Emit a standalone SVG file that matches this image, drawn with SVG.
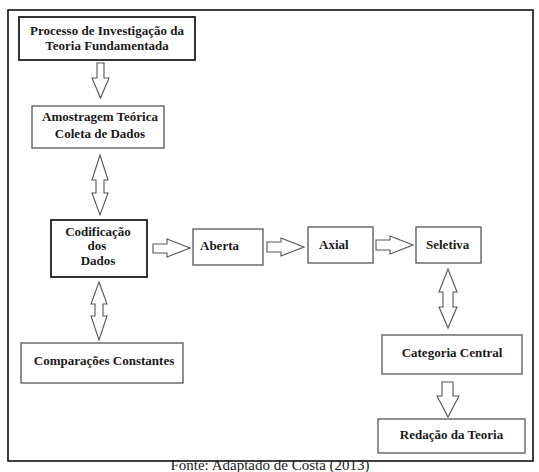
<svg xmlns="http://www.w3.org/2000/svg" width="539" height="472" viewBox="0 0 539 472">
<style>
.frame{fill:none;stroke:#111;stroke-width:1.6}
.bx{fill:#fff;stroke:#555;stroke-width:1.3}
.bk{fill:#fff;stroke:#111;stroke-width:1.7}
.ar{fill:#fff;stroke:#555;stroke-width:1.1;stroke-linejoin:miter}
.t{font-family:"Liberation Serif","Times New Roman",serif;font-weight:bold;font-size:13px;fill:#1a1a1a}
.c{text-anchor:middle}
.cap{font-family:"Liberation Serif","Times New Roman",serif;font-size:15px;fill:#222;text-anchor:middle}
</style>
<rect width="539" height="472" fill="#fff"/>
<rect class="frame" x="8" y="10" width="525" height="451"/>
<g id="connectors">
<path class="ar" d="M97,63 L104,63 L104,78 L109,78 L100.5,98 L92,78 L97,78 Z"/>
<path class="ar" d="M100,155 L108,180 L104,180 L104,193 L108,193 L100,215 L92,193 L96,193 L96,180 L92,180 Z"/>
<path class="ar" d="M99,282 L107,304 L103,304 L103,316 L107,316 L99,340 L91,316 L95,316 L95,304 L91,304 Z"/>
<path class="ar" d="M153,244 L167,244 L167,239 L190,248 L167,257 L167,253 L153,253 Z"/>
<path class="ar" d="M267,242 L281,242 L281,238 L304,247 L281,256 L281,252 L267,252 Z"/>
<path class="ar" d="M376,240 L390,240 L390,236 L413,245 L390,254 L390,250 L376,250 Z"/>
<path class="ar" d="M448,269 L457,292 L453,292 L453,307 L457,307 L448,328 L439,307 L443,307 L443,292 L439,292 Z"/>
<path class="ar" d="M442,382 L453,382 L453,396 L459,396 L448,417 L437,396 L442,396 Z"/>
</g>
<g id="n1">
<rect class="bk" x="19" y="17" width="176" height="43"/>
<text class="t c" x="107" y="35">Processo de Investigação da</text>
<text class="t c" x="107" y="50">Teoria Fundamentada</text>
</g>
<g id="n2">
<rect class="bx" x="32" y="106" width="132" height="42"/>
<text class="t c" x="100" y="121">Amostragem Teórica</text>
<text class="t c" x="100" y="138">Coleta de Dados</text>
</g>
<g id="n3">
<rect class="bk" x="51" y="220" width="96" height="57"/>
<text class="t c" x="98" y="236">Codificação</text>
<text class="t c" x="97" y="250">dos</text>
<text class="t c" x="98" y="265">Dados</text>
</g>
<g id="n4">
<rect class="bx" x="193" y="229" width="70" height="36"/>
<text class="t" x="200" y="250">Aberta</text>
</g>
<g id="n5">
<rect class="bx" x="308" y="227" width="65" height="36"/>
<text class="t" x="319" y="249">Axial</text>
</g>
<g id="n6">
<rect class="bx" x="416" y="227" width="65" height="36"/>
<text class="t" x="426" y="249">Seletiva</text>
</g>
<g id="n7">
<rect class="bx" x="21" y="343" width="162" height="40"/>
<text class="t c" x="104" y="365">Comparações Constantes</text>
</g>
<g id="n8">
<rect class="bx" x="382" y="335" width="140" height="39"/>
<text class="t c" x="452" y="357">Categoria Central</text>
</g>
<g id="n9">
<rect class="bx" x="378" y="419" width="147" height="34"/>
<text class="t c" x="451.5" y="439">Redação da Teoria</text>
</g>
<text class="cap" x="270" y="470">Fonte: Adaptado de Costa (2013)</text>
</svg>
